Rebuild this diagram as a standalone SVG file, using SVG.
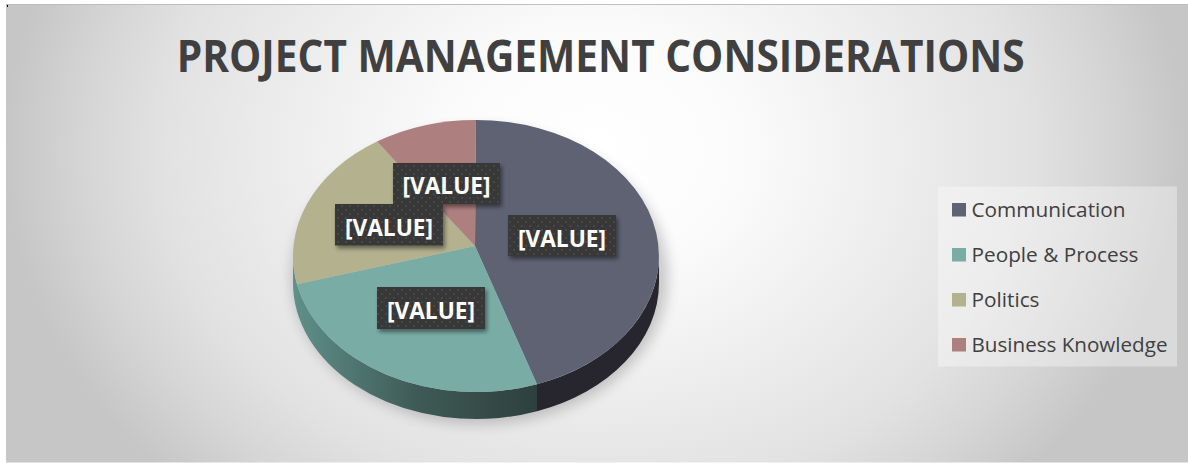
<svg xmlns="http://www.w3.org/2000/svg" width="1188" height="463" viewBox="0 0 1188 463">
  <defs>
    <radialGradient id="bg" gradientUnits="userSpaceOnUse" cx="595" cy="150" r="590" gradientTransform="translate(0,150) scale(1,0.8) translate(0,-150)">
      <stop offset="0" stop-color="#ffffff"/>
      <stop offset="0.25" stop-color="#fbfbfb"/>
      <stop offset="0.5" stop-color="#eeeeee"/>
      <stop offset="0.73" stop-color="#e2e2e2"/>
      <stop offset="0.86" stop-color="#d6d6d6"/>
      <stop offset="1" stop-color="#c6c6c6"/>
    </radialGradient>
    <linearGradient id="tealSide" gradientUnits="userSpaceOnUse" x1="293" y1="0" x2="537" y2="0">
      <stop offset="0" stop-color="#5f908a"/>
      <stop offset="0.5" stop-color="#3f5b57"/>
      <stop offset="1" stop-color="#2e403d"/>
    </linearGradient>
    <pattern id="dots" width="8" height="8" patternUnits="userSpaceOnUse">
      <rect width="8" height="8" fill="#393939"/>
      <circle cx="2" cy="2" r="0.9" fill="#4d4d4d"/>
      <circle cx="6" cy="6" r="0.9" fill="#4d4d4d"/>
    </pattern>
    <filter id="boxShadow" x="-20%" y="-30%" width="140%" height="170%">
      <feDropShadow dx="2" dy="3" stdDeviation="2" flood-color="#000" flood-opacity="0.45"/>
    </filter>
    <filter id="pieShadow" x="-20%" y="-20%" width="140%" height="140%">
      <feGaussianBlur stdDeviation="7"/>
    </filter>
  </defs>
  <style>
    .title { font-family: "Open Sans", "Liberation Sans", sans-serif; font-weight: bold; font-size: 44px; fill: #404040; }
    .lbl { font-family: "Open Sans", "Liberation Sans", sans-serif; font-weight: bold; font-size: 23px; fill: #ffffff; text-anchor: middle; }
    .leg { font-family: "Open Sans", "Liberation Sans", sans-serif; font-size: 20.5px; fill: #404040; }
    .box { fill: url(#dots); filter: url(#boxShadow); }
  </style>

  <rect x="0" y="0" width="1188" height="463" fill="#ffffff"/>
  <g id="chart-area">
    <rect x="6" y="4" width="1182" height="458.5" fill="url(#bg)"/>
    <line x1="6" y1="4.5" x2="1188" y2="4.5" stroke="#bdbdbd" stroke-width="1"/>
    <rect x="7" y="5" width="1" height="2" fill="#000000"/>
  </g>

  <g id="title">
    <text class="title" x="176.7" y="71.7" textLength="848" lengthAdjust="spacingAndGlyphs">PROJECT MANAGEMENT CONSIDERATIONS</text>
  </g>

  <g id="pie">
    <ellipse cx="480" cy="276" rx="188" ry="148" fill="#000000" opacity="0.2" filter="url(#pieShadow)"/>
    <g id="sides">
      <path d="M537,384.2 A183,136 0 0,0 659,256 L659,283 A183,136 0 0,1 537,411.2 Z" fill="#27262e"/>
      <path d="M297,284.3 A183,136 0 0,0 537,384.2 L537,411.2 A183,136 0 0,1 297,311.3 Z" fill="url(#tealSide)"/>
      <path d="M293,256 A183,136 0 0,0 297,284.3 L297,311.3 A183,136 0 0,1 293,283 Z" fill="#5f908a"/>
    </g>
    <g id="slice-communication">
      <path d="M475,246 L476,120 A183,136 0 0,1 537,384.2 Z" fill="#5f6273"/>
    </g>
    <g id="slice-people-process">
      <path d="M475,246 L537,384.2 A183,136 0 0,1 297,284.3 Z" fill="#7aaca6"/>
    </g>
    <g id="slice-politics">
      <path d="M475,246 L297,284.3 A183,136 0 0,1 377,141.6 Z" fill="#b4b18f"/>
    </g>
    <g id="slice-business-knowledge">
      <path d="M475,246 L377,141.6 A183,136 0 0,1 476,120 Z" fill="#ae7f7f"/>
    </g>
  </g>

  <g id="labels">
    <g id="label-business">
      <rect class="box" x="393" y="163" width="107" height="41"/>
      <text class="lbl" x="446.5" y="194" textLength="88" lengthAdjust="spacingAndGlyphs">[VALUE]</text>
    </g>
    <g id="label-politics">
      <rect class="box" x="335" y="204" width="108" height="41.5"/>
      <text class="lbl" x="389" y="235.5" textLength="88" lengthAdjust="spacingAndGlyphs">[VALUE]</text>
    </g>
    <g id="label-communication">
      <rect class="box" x="508" y="215" width="108" height="41"/>
      <text class="lbl" x="562" y="246.5" textLength="88" lengthAdjust="spacingAndGlyphs">[VALUE]</text>
    </g>
    <g id="label-people">
      <rect class="box" x="377" y="287" width="108" height="42"/>
      <text class="lbl" x="431" y="318.5" textLength="88" lengthAdjust="spacingAndGlyphs">[VALUE]</text>
    </g>
  </g>

  <g id="legend">
    <rect x="938" y="186.5" width="239" height="180" fill="#ffffff" opacity="0.35"/>
    <g id="legend-communication">
      <rect x="952" y="203" width="14" height="13.5" fill="#5f6273"/>
      <text class="leg" x="971.5" y="216.5" textLength="154" lengthAdjust="spacingAndGlyphs">Communication</text>
    </g>
    <g id="legend-people">
      <rect x="952" y="248" width="14" height="13.5" fill="#7aaca6"/>
      <text class="leg" x="971.5" y="261.5" textLength="167" lengthAdjust="spacingAndGlyphs">People &amp; Process</text>
    </g>
    <g id="legend-politics">
      <rect x="952" y="293" width="14" height="13.5" fill="#b4b18f"/>
      <text class="leg" x="971.5" y="306.5" textLength="68" lengthAdjust="spacingAndGlyphs">Politics</text>
    </g>
    <g id="legend-business">
      <rect x="952" y="338" width="14" height="13.5" fill="#ae7f7f"/>
      <text class="leg" x="971.5" y="351.5" textLength="196" lengthAdjust="spacingAndGlyphs">Business Knowledge</text>
    </g>
  </g>
</svg>
